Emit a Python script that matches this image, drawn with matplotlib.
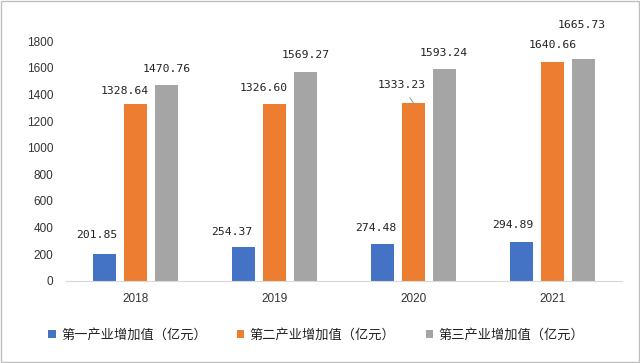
import numpy as np
import matplotlib.pyplot as plt

years = ['2018', '2019', '2020', '2021']
primary = [201.85, 254.37, 274.48, 294.89]
secondary = [1328.64, 1326.60, 1333.23, 1640.66]
tertiary = [1470.76, 1569.27, 1593.24, 1665.73]
names = ['第一产业增加值（亿元）', '第二产业增加值（亿元）', '第三产业增加值（亿元）']
colors = ['#4472C4', '#ED7D31', '#A5A5A5']

# label offsets from the top-centre of each bar, in pixels
lab_dx = [[-8, -12, -7, -9], [-11, -11, -12, 0], [0, 0, -1, -2]]
lab_dy = [[19, 15, 16, 17], [13, 16, 18, 17], [16, 17, 16, 34]]

plt.rcParams['font.family'] = ['Noto Sans CJK SC', 'DejaVu Sans']

fig = plt.figure(figsize=(6.4, 3.63), dpi=100)
ax = fig.add_axes([0.103, 0.226, 0.869, 0.661])
px = 72 / fig.dpi  # pixels -> points

x = np.arange(len(years))
w = 0.165
step = 0.223
for i, (vals, nm, c) in enumerate(zip([primary, secondary, tertiary], names, colors)):
    pos = x + (i - 1) * step
    ax.bar(pos, vals, width=w, color=c, label=nm)
    for j, (p, v) in enumerate(zip(pos, vals)):
        arrow = None
        if (i, j) == (1, 2):
            arrow = dict(arrowstyle='-', color='#808080', lw=0.6, shrinkA=4, shrinkB=0)
        ax.annotate(f'{v:.2f}', xy=(p, v),
                    xytext=(lab_dx[i][j] * px, lab_dy[i][j] * px), textcoords='offset points',
                    ha='center', va='center', fontsize=8.2, family='DejaVu Sans Mono',
                    color='#222222', annotation_clip=False, arrowprops=arrow)

ax.set_xlim(-0.5, 3.5)
ax.set_ylim(0, 1800)
ax.set_yticks(range(0, 1801, 200))
ax.set_xticks(x)
ax.set_xticklabels(years)
ax.tick_params(axis='both', length=0, labelsize=8.5, colors='#333333')
for t in ax.get_xticklabels() + ax.get_yticklabels():
    t.set_family('Liberation Sans')
ax.tick_params(axis='x', pad=9)
ax.tick_params(axis='y', pad=9)
for s in ['top', 'right', 'left']:
    ax.spines[s].set_visible(False)
ax.spines['bottom'].set_color('#D9D9D9')

fig.legend(loc='center', bbox_to_anchor=(0.494, 0.077), ncol=3, frameon=False,
           fontsize=9.5, handlelength=0.55, handleheight=0.55, columnspacing=2.3,
           handletextpad=0.4, labelcolor='#222222')

fig.patches.append(plt.Rectangle((0.001, 0.002), 0.997, 0.995, transform=fig.transFigure,
                                 fill=False, edgecolor='#BFBFBF', linewidth=1))

fig.savefig('out.png', dpi=100)
